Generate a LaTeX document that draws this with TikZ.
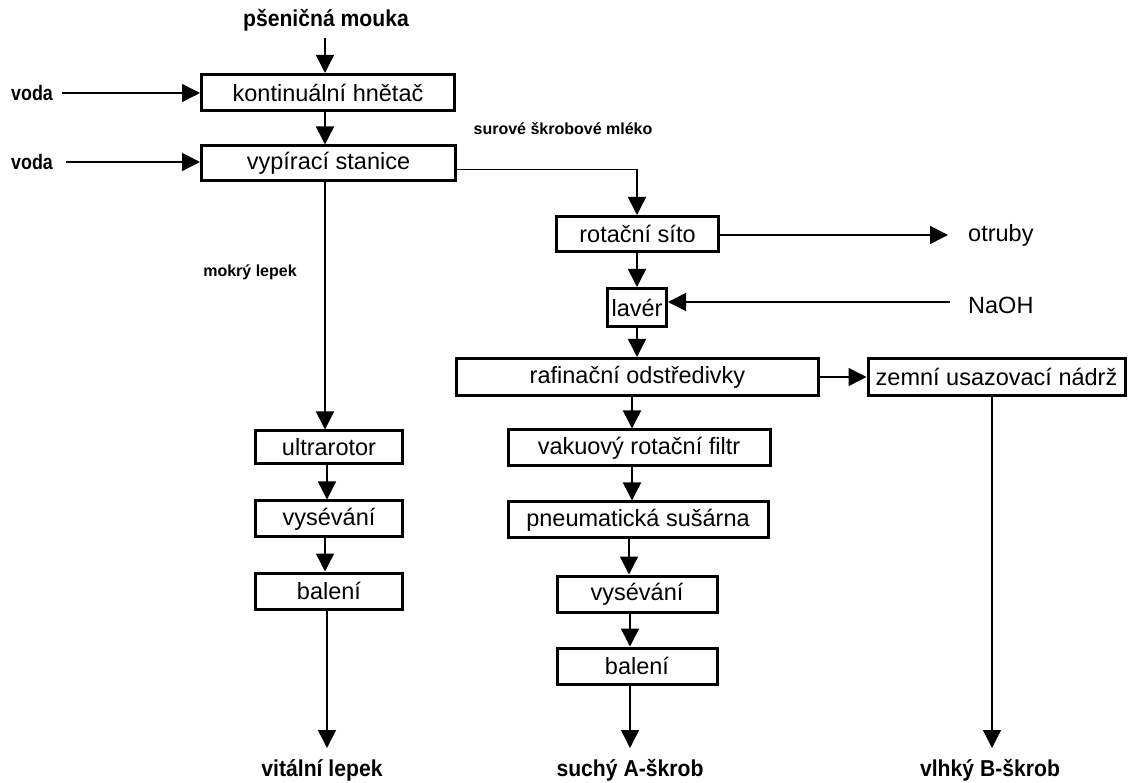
\documentclass[tikz,border=0pt]{standalone}
\usepackage{fontspec}
\setmainfont{Liberation Sans}
\newfontfamily\boxfont{Liberation Sans}
\newfontfamily\lblfont[FakeStretch=0.92]{Liberation Sans}
\newfontfamily\vodafont[FakeStretch=0.85]{Liberation Sans}
\usetikzlibrary{arrows.meta}
\begin{document}
\begin{tikzpicture}[x=1pt,y=-1pt,
  box/.style={draw=black,line width=3pt,minimum height=36pt,inner sep=0pt,font=\boxfont\fontsize{23.5}{26}\selectfont},
  lbl/.style={inner sep=0pt,font=\lblfont\bfseries\fontsize{23}{26}\selectfont},
  voda/.style={inner sep=0pt,font=\vodafont\bfseries\fontsize{21}{24}\selectfont},
  side/.style={inner sep=0pt,font=\boxfont\fontsize{23.5}{26}\selectfont},
  small/.style={inner sep=0pt,font=\bfseries\fontsize{16}{18}\selectfont},
  arr/.style={line width=1.5pt,-{Triangle[length=18pt,width=18pt]}}]
\useasboundingbox (0,0) rectangle (1128,783);
\fill[white] (0,0) rectangle (1128,783);
% nodes
\node[lbl] (mouka) at (326,20) {pšeničná mouka};
\node[box,minimum width=253pt,minimum height=36pt] (hnetac) at (328,92.5) {kontinuální hnětač};
\node[box,minimum width=254pt,minimum height=35pt] (vypir) at (328.5,163.5) {vypírací stanice};
\node[voda] (voda1) at (32,93) {voda};
\node[voda] (voda2) at (32,162) {voda};
\node[small] (mleko) at (563,129) {surové škrobové mléko};
\node[small] (lepek) at (250,272) {mokrý lepek};
\node[box,minimum width=162pt,minimum height=35pt] (sito) at (637.5,234) {rotační síto};
\node[side,anchor=west] (otruby) at (968,235) {otruby};
\node[box,minimum width=59pt,minimum height=38pt] (laver) at (637,307.5) {lavér};
\node[side,anchor=west] (naoh) at (968,305) {NaOH};
\node[box,minimum width=362pt,minimum height=37pt] (rafin) at (637.5,377) {rafinační odstředivky};
\node[box,minimum width=257pt,minimum height=37pt] (zemni) at (996.5,377) {zemní usazovací nádrž};
\node[box,minimum width=262pt] (vakuo) at (639,448) {vakuový rotační filtr};
\node[box,minimum width=260pt] (pneum) at (638,520) {pneumatická sušárna};
\node[box,minimum width=160pt] (vysevR) at (637,594) {vysévání};
\node[box,minimum width=160pt] (balenR) at (637,666) {balení};
\node[box,minimum width=147pt,minimum height=33pt] (ultra) at (329,447.5) {ultrarotor};
\node[box,minimum width=147pt,minimum height=36pt] (vysevL) at (329,519) {vysévání};
\node[box,minimum width=147pt,minimum height=36pt] (balenL) at (329,591) {balení};
\node[lbl] (vital) at (322,770) {vitální lepek};
\node[lbl] (suchy) at (630,770) {suchý A-škrob};
\node[lbl] (vlhky) at (990,770) {vlhký B-škrob};
\coordinate (c1) at (325,38);
\coordinate (c2) at (62,93);
\coordinate (c3) at (66,162);
\coordinate (c4) at (948,235);
\coordinate (c5) at (950,302);
% connectors
\draw[arr] (c1) -- (c1 |- hnetac.north);
\draw[arr] (c2) -- (hnetac.west |- c2);
\draw[arr] (c3) -- (vypir.west |- c3);
\draw[arr] (c1 |- hnetac.south) -- (c1 |- vypir.north);
\draw[arr] ([yshift=-6pt]vypir.east) -| (637,0 |- sito.north);
\draw[arr] (sito.east |- c4) -- (c4);
\draw[arr] (637,0 |- sito.south) -- (637,0 |- laver.north);
\draw[arr] (c5) -- (laver.east |- c5);
\draw[arr] (637,0 |- laver.south) -- (637,0 |- rafin.north);
\draw[arr] (rafin.east) -- (zemni.west);
\draw[arr] (632,0 |- rafin.south) -- (632,0 |- vakuo.north);
\draw[arr] (632,0 |- vakuo.south) -- (632,0 |- pneum.north);
\draw[arr] (629,0 |- pneum.south) -- (629,0 |- vysevR.north);
\draw[arr] (630,0 |- vysevR.south) -- (630,0 |- balenR.north);
\draw[arr] (630,0 |- balenR.south) -- (630,748);
\draw[arr] (992,0 |- zemni.south) -- (992,748);
\draw[arr] (325,0 |- vypir.south) -- (325,0 |- ultra.north);
\draw[arr] (327,0 |- ultra.south) -- (327,0 |- vysevL.north);
\draw[arr] (325,0 |- vysevL.south) -- (325,0 |- balenL.north);
\draw[arr] (327,0 |- balenL.south) -- (327,748);
\end{tikzpicture}
\end{document}
